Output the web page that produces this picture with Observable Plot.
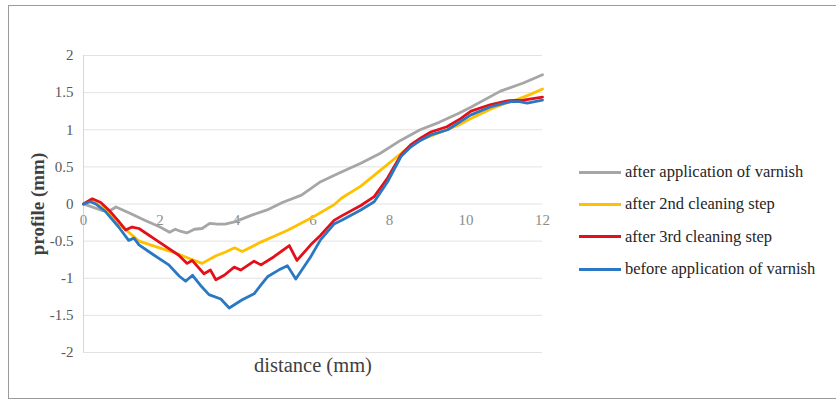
<!DOCTYPE html>
<html>
<head>
<meta charset="utf-8">
<script src="https://cdn.jsdelivr.net/npm/d3@7"></script>
<script src="https://cdn.jsdelivr.net/npm/@observablehq/plot@0.6"></script>
<style>
  html, body { margin: 0; padding: 0; background: #fff; overflow: hidden; width: 836px; height: 402px; }
  #wrap { position: relative; width: 836px; height: 402px; }
  #frame { position: absolute; left: 8px; top: 5px; width: 900px; height: 394px; border: 1.5px solid #9a9a9a; box-sizing: border-box; pointer-events: none; }
  #legend { position: absolute; left: 579px; top: 156px; font-family: "Liberation Serif", serif; font-size: 16.5px; color: #262626; white-space: nowrap; }
  svg text { font-family: "Liberation Serif", serif !important; }
  .row { height: 32.3px; display: flex; align-items: center; }
  .sw { width: 42px; height: 3px; margin-right: 4px; }
</style>
</head>
<body>
<div id="wrap">
  <div id="chart"></div>
  <div id="legend"></div>
  <div id="frame"></div>
</div>
<script>
// Series names and colours
const seriesNames = [
  "after application of varnish",
  "after 2nd cleaning step",
  "after 3rd cleaning step",
  "before application of varnish"
];
const seriesColors = ["#a6a6a6", "#ffc000", "#e3101b", "#2a78c3"];

// after application of varnish (gray)
const varnishX = [0, 0.5, 0.65, 0.85, 1.2, 1.6, 2.0, 2.25, 2.4, 2.55, 2.7, 2.9, 3.1, 3.3, 3.5, 3.7, 3.95, 4.4, 4.8, 5.2, 5.7, 6.2, 6.7, 7.25, 7.75, 8.3, 8.8, 9.3, 9.8, 10.15, 10.9, 11.5, 12];
const varnishY = [0, -0.09, -0.10, -0.04, -0.12, -0.22, -0.31, -0.38, -0.34, -0.37, -0.39, -0.34, -0.33, -0.26, -0.27, -0.27, -0.24, -0.15, -0.08, 0.02, 0.12, 0.30, 0.42, 0.55, 0.68, 0.86, 1.0, 1.1, 1.22, 1.31, 1.52, 1.63, 1.74];

// after 2nd cleaning step (yellow)
const clean2X = [0, 0.18, 0.5, 1.0, 1.45, 2.05, 2.4, 2.75, 3.1, 3.45, 3.7, 3.95, 4.15, 4.65, 5.0, 5.35, 5.95, 6.55, 6.75, 7.25, 7.75, 8.3, 8.55, 8.85, 9.3, 9.8, 10.2, 10.65, 11.0, 11.35, 11.7, 12];
const clean2Y = [0, 0.05, -0.05, -0.30, -0.50, -0.60, -0.66, -0.73, -0.80, -0.70, -0.65, -0.59, -0.64, -0.51, -0.43, -0.35, -0.19, -0.01, 0.08, 0.24, 0.45, 0.68, 0.79, 0.87, 0.96, 1.06, 1.17, 1.28, 1.35, 1.41, 1.48, 1.55];

// after 3rd cleaning step (red)
const clean3X = [0, 0.23, 0.45, 0.66, 0.9, 1.1, 1.27, 1.45, 1.97, 2.49, 2.71, 2.84, 3.15, 3.32, 3.46, 3.68, 3.94, 4.11, 4.46, 4.64, 4.98, 5.38, 5.58, 5.94, 6.2, 6.55, 6.75, 7.25, 7.6, 7.95, 8.3, 8.56, 8.82, 9.08, 9.5, 9.86, 10.13, 10.65, 11.08, 11.5, 12];
const clean3Y = [0, 0.07, 0.02, -0.08, -0.22, -0.35, -0.31, -0.33, -0.51, -0.69, -0.80, -0.76, -0.94, -0.89, -1.02, -0.96, -0.85, -0.89, -0.77, -0.82, -0.71, -0.56, -0.76, -0.55, -0.42, -0.22, -0.16, -0.02, 0.10, 0.35, 0.66, 0.80, 0.89, 0.97, 1.04, 1.15, 1.25, 1.34, 1.39, 1.40, 1.44];

// before application of varnish (blue)
const beforeX = [0, 0.18, 0.32, 0.57, 0.92, 1.18, 1.32, 1.45, 1.79, 2.23, 2.5, 2.67, 2.85, 3.05, 3.28, 3.59, 3.81, 4.15, 4.46, 4.64, 4.81, 5.1, 5.33, 5.55, 5.94, 6.2, 6.55, 6.75, 7.25, 7.6, 7.95, 8.3, 8.56, 8.82, 9.08, 9.52, 10.13, 10.65, 11.17, 11.4, 11.6, 12];
const beforeY = [0, 0.03, 0.0, -0.10, -0.31, -0.49, -0.46, -0.55, -0.67, -0.82, -0.97, -1.04, -0.96, -1.09, -1.22, -1.28, -1.40, -1.29, -1.21, -1.09, -0.98, -0.89, -0.83, -1.01, -0.71, -0.48, -0.27, -0.22, -0.08, 0.03, 0.30, 0.64, 0.77, 0.86, 0.93, 1.0, 1.20, 1.31, 1.38, 1.38, 1.36, 1.40];

// Axis ticks
const yTicks = [-2, -1.5, -1, -0.5, 0, 0.5, 1, 1.5, 2];
const xTicks = [0, 2, 4, 6, 8, 10, 12];
const xLabel = "distance (mm)";
const yLabel = "profile (mm)";

const allX = [varnishX, clean2X, clean3X, beforeX];
const allY = [varnishY, clean2Y, clean3Y, beforeY];
const data = [];
seriesNames.forEach((name, i) => {
  allX[i].forEach((x, j) => data.push({series: name, x, y: allY[i][j]}));
});

const chart = Plot.plot({
  width: 836,
  height: 402,
  marginLeft: 83,
  marginRight: 294,
  marginTop: 55,
  marginBottom: 50,
  style: { background: "transparent" },
  x: { domain: [0, 12], axis: null },
  y: { domain: [-2, 2], axis: null },
  color: { domain: seriesNames, range: seriesColors },
  marks: [
    Plot.ruleY(yTicks, { stroke: "#e2e2e2", strokeWidth: 1 }),
    Plot.ruleX([0], { y1: -2, y2: 2, stroke: "#d6d6d6", strokeWidth: 1 }),
    Plot.axisY(yTicks, {
      tickSize: 0, tickPadding: 10, tickFormat: d => String(d),
      fontSize: 15, fill: "#595959", label: null
    }),
    Plot.text(xTicks, {
      x: d => d, y: () => 0, text: d => String(d), dy: 16,
      fontSize: 15, fill: "#8c8c8c"
    }),
    Plot.line(data, {
      x: "x", y: "y", z: "series", stroke: "series",
      strokeWidth: 2.8, strokeLinejoin: "round", strokeLinecap: "round"
    }),
    Plot.text([xLabel], {
      frameAnchor: "bottom", dy: 19, text: d => d,
      fontSize: 20.5, fill: "#404040"
    }),
    Plot.text([yLabel], {
      frameAnchor: "left", textAnchor: "middle", dx: -46, rotate: -90, text: d => d,
      fontSize: 19, fontWeight: "bold", fill: "#404040"
    })
  ]
});
document.getElementById("chart").appendChild(chart);

// legend
const legend = document.getElementById("legend");
seriesNames.forEach((name, i) => {
  const row = document.createElement("div");
  row.className = "row";
  const sw = document.createElement("div");
  sw.className = "sw";
  sw.style.background = seriesColors[i];
  const t = document.createElement("span");
  t.textContent = name;
  row.appendChild(sw);
  row.appendChild(t);
  legend.appendChild(row);
});
</script>
</body>
</html>
